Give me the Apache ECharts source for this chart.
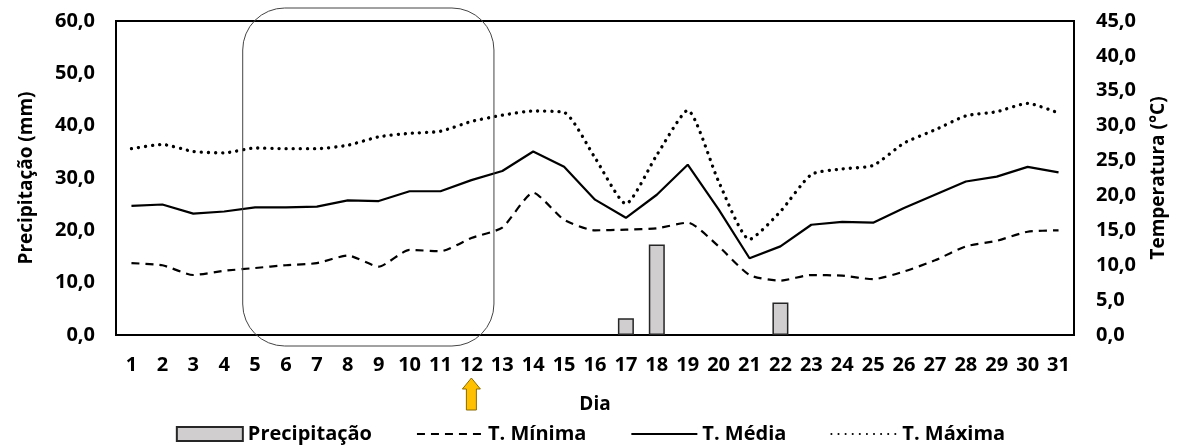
<!DOCTYPE html>
<html><head><meta charset="utf-8">
<script src="https://cdn.jsdelivr.net/npm/echarts@6/dist/echarts.min.js"></script>
<style>html,body{margin:0;padding:0;background:#fff}#c{width:1181px;height:446px}</style>
</head><body><div id="c"></div>
<script>
const days = ['1','2','3','4','5','6','7','8','9','10','11','12','13','14','15','16','17','18','19','20','21','22','23','24','25','26','27','28','29','30','31'];
const precipitacao = [null,null,null,null,null,null,null,null,null,null,null,null,null,null,null,null,3.2,17.3,null,null,null,6.2,null,null,null,null,null,null,null,null,null];
const tMinima = [10.3,10.0,8.6,9.2,9.6,10.0,10.3,11.4,9.8,12.2,12.0,13.9,15.4,20.4,16.5,15.0,15.1,15.3,16.1,12.7,8.6,7.8,8.6,8.5,8.0,9.1,10.7,12.7,13.5,14.8,15.0];
const tMedia = [18.5,18.7,17.4,17.7,18.3,18.3,18.4,19.3,19.2,20.6,20.6,22.2,23.5,26.3,24.1,19.4,16.8,20.1,24.4,18.0,11.0,12.7,15.8,16.2,16.1,18.2,20.1,22.0,22.7,24.1,23.3];
const tMaxima = [26.7,27.3,26.3,26.1,26.8,26.7,26.7,27.2,28.4,28.9,29.2,30.6,31.5,32.1,31.9,25.4,18.8,25.8,32.2,22.0,13.7,17.7,23.0,23.8,24.3,27.5,29.4,31.4,32.0,33.2,31.8];
const leftTicks = {min:0, max:60, interval:10};
const rightTicks = {min:0, max:45, interval:5};

const FONT = '"Open Sans", "Noto Sans", sans-serif';
const fmt = v => v.toFixed(1).replace('.', ',');
const chart = echarts.init(document.getElementById('c'), null, {renderer:'canvas'});
const txt = {fontFamily:FONT, fontWeight:'bold', fontSize:19, color:'#000'};
const tick = Object.assign({}, txt, {fontSize:20});
const hideSym = {opacity:0};
chart.setOption({
  animation:false,
  grid:{left:116, right:107, top:21, bottom:111, show:true, borderColor:'#000', borderWidth:2, backgroundColor:'transparent'},
  legend:{
    top:419, left:'center', itemWidth:66, itemHeight:14, itemGap:44,
    textStyle:Object.assign({}, txt, {fontSize:20}),
    data:[
      {name:'Precipitação', icon:'rect'},
      {name:'T. Mínima', itemStyle:hideSym},
      {name:'T. Média', itemStyle:hideSym},
      {name:'T. Máxima', itemStyle:hideSym}
    ]
  },
  xAxis:{
    type:'category', data:days, boundaryGap:true,
    name:'Dia', nameLocation:'middle', nameGap:60, nameTextStyle:txt,
    axisLine:{show:true, lineStyle:{color:'#000', width:2}},
    axisTick:{show:false},
    axisLabel:Object.assign({margin:20, interval:0}, tick)
  },
  yAxis:[
    {type:'value', min:leftTicks.min, max:leftTicks.max, interval:leftTicks.interval,
     name:'Precipitação (mm)', nameLocation:'middle', nameGap:80, nameTextStyle:txt,
     axisLine:{show:false}, axisTick:{show:false}, splitLine:{show:false},
     axisLabel:Object.assign({margin:21, formatter:fmt}, tick)},
    {type:'value', min:rightTicks.min, max:rightTicks.max, interval:rightTicks.interval,
     name:'Temperatura (°C)', nameLocation:'middle', nameGap:75, nameTextStyle:txt,
     axisLine:{show:false}, axisTick:{show:false}, splitLine:{show:false},
     axisLabel:Object.assign({margin:22, formatter:fmt}, tick)}
  ],
  series:[
    {name:'Precipitação', type:'bar', yAxisIndex:0, data:precipitacao, barWidth:16,
     itemStyle:{color:'#D0CECE', borderColor:'#262626', borderWidth:1.5}},
    {name:'T. Mínima', type:'line', yAxisIndex:1, data:tMinima, symbol:'none', smooth:0.2,
     lineStyle:{color:'#000', width:2.2, type:[8,6]}, itemStyle:{color:'#000'}},
    {name:'T. Média', type:'line', yAxisIndex:1, data:tMedia, symbol:'none',
     lineStyle:{color:'#000', width:2.2, type:'solid'}, itemStyle:{color:'#000'}},
    {name:'T. Máxima', type:'line', yAxisIndex:1, data:tMaxima, symbol:'none', smooth:0.2,
     lineStyle:{color:'#000', width:3.3, type:[0.1,7], cap:'round'}, itemStyle:{color:'#000'}}
  ]
});

// Annotations positioned from the axes
const px = d => chart.convertToPixel({xAxisIndex:0}, d);
const cw = px('2') - px('1');
const rx0 = px('5') - cw*0.4, rx1 = px('13') - cw*0.27;
const x12 = px('12');
chart.setOption({graphic:[
  {type:'rect', shape:{x:rx0, y:8, width:rx1-rx0, height:338, r:42}, style:{fill:'none', stroke:'#444', lineWidth:1}, z:100},
  {type:'polygon', shape:{points:[[x12,378],[x12+9,389],[x12+5,389],[x12+5,410],[x12-5,410],[x12-5,389],[x12-9,389]]},
   style:{fill:'#FFC000', stroke:'#8a6a00', lineWidth:1}, z:100}
]});
</script></body></html>
